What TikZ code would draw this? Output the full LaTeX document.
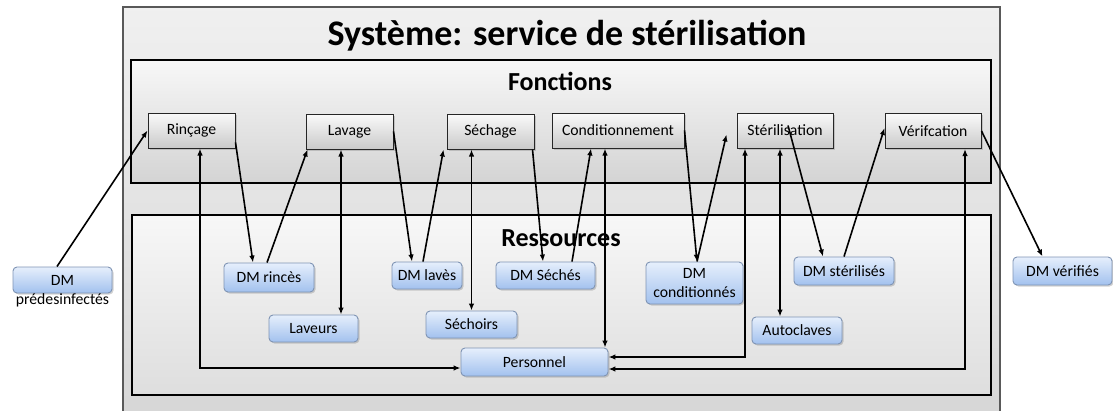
\documentclass[tikz,border=0pt]{standalone}
\usepackage{fontspec}
\setmainfont{Carlito}
\usetikzlibrary{arrows.meta,shadows}
\definecolor{bleuhaut}{HTML}{E6EFFC}
\definecolor{bleubas}{HTML}{A2C1EE}
\definecolor{bordbleu}{HTML}{7F94B4}

\begin{document}
\begin{tikzpicture}[x=1pt,y=-1pt,
  every node/.style={font=\fontsize{15.7}{19.5}\selectfont},
  fonction/.style={draw=black!85,line width=1pt,top color=gray!4,bottom color=gray!42,
    drop shadow={opacity=0.35,shadow xshift=1.5pt,shadow yshift=-1.5pt},
    minimum height=35pt,inner sep=1pt},
  ressource/.style={draw=bordbleu,line width=0.9pt,rounded corners=4pt,
    top color=bleuhaut,bottom color=bleubas,
    drop shadow={opacity=0.35,shadow xshift=1.5pt,shadow yshift=-1.5pt},
    minimum height=27pt,inner sep=1pt},
  fl/.style={-{Latex[length=7pt,width=5.5pt]},line width=1.6pt},
  dfl/.style={{Latex[length=7pt,width=5.5pt]}-{Latex[length=7pt,width=5.5pt]},line width=1.6pt}]
\useasboundingbox (0,0) rectangle (1113,410);
% cadres
\draw[line width=1.4pt,draw=black!65,top color=gray!12,bottom color=gray!32] (123,7) rectangle (1000,416);
\draw[line width=1.2pt,top color=gray!6,bottom color=gray!34] (131,60) rectangle (991,183);
\draw[line width=1.2pt,top color=gray!6,bottom color=gray!26] (132,215) rectangle (991,395);
\node[anchor=base,font=\bfseries\fontsize{36}{40}\selectfont] (titre) at (567,45) {Système: service de stérilisation};
\node[anchor=base,font=\bfseries\fontsize{26}{30}\selectfont] (fonctions) at (560,90) {Fonctions};
\node[anchor=base,font=\bfseries\fontsize{26}{30}\selectfont] (ressources) at (561,246) {Ressources};
% fonctions
\node[fonction,minimum width=87pt] (rincage) at (191.5,130.5) {Rinçage};
\node[fonction,minimum width=87pt] (lavage) at (349.5,131.5) {Lavage};
\node[fonction,minimum width=87pt] (sechage) at (490.5,131.5) {Séchage};
\node[fonction,minimum width=132pt] (conditionnement) at (618,130.5) {Conditionnement};
\node[fonction,minimum width=96pt] (sterilisation) at (785,130.5) {Stérilisation};
\node[fonction,minimum width=96pt] (verification) at (933,131) {Vérifcation};
% ressources
\node[ressource,minimum width=99pt,minimum height=26pt,
  label={[inner sep=0pt]below:prédesinfectés}] (dmpre) at (62.5,280) {DM};
\node[ressource,minimum width=90pt,minimum height=29pt] (rinces) at (269,277.5) {DM rincès};
\node[ressource,minimum width=89pt] (laveurs) at (313.5,328.5) {Laveurs};
\node[ressource,minimum width=70pt] (laves) at (427,275.5) {DM lavès};
\node[ressource,minimum width=99pt] (seches) at (545.5,275.5) {DM Séchés};
\node[ressource,minimum width=91pt] (sechoirs) at (471.5,324.5) {Séchoirs};
\node[ressource,minimum width=147pt,minimum height=28pt] (personnel) at (534.5,362) {Personnel};
\node[ressource,minimum width=97pt,minimum height=42pt,align=center] (conditionnes) at (694.5,283) {DM\\conditionnés};
\node[ressource,minimum width=100pt,minimum height=28pt] (sterilises) at (844,271) {DM stérilisés};
\node[ressource,minimum width=90pt] (autoclaves) at (797,330.5) {Autoclaves};
\node[ressource,minimum width=99pt,minimum height=28pt] (verifies) at (1062.5,271) {DM vérifiés};
% flux
\draw[fl] ([xshift=-5.5pt]dmpre.north) -- (rincage.west);
\draw[fl] ([yshift=-12pt]rincage.east) -- ([xshift=-16pt]rinces.north);
\draw[fl] ([xshift=-2pt]rinces.north) -- ([xshift=2pt]lavage.south west);
\draw[dfl] ([xshift=-8.5pt]lavage.south) -- ([xshift=-8.5pt]lavage.south |- laveurs.north);
\draw[dfl] ([xshift=8.5pt]rincage.south) |- ([yshift=-6pt]personnel.west);
\draw[fl] (lavage.east) -- ([xshift=-15pt]laves.north);
\draw[fl] ([xshift=-4pt]laves.north) -- ([xshift=-3pt]sechage.south west);
\draw[dfl] (sechage.south -| sechoirs.north) -- (sechoirs.north);
\draw[fl] ([xshift=-2pt]sechage.south east) -- ([xshift=-2.5pt]seches.north);
\draw[fl] ([xshift=26.5pt]seches.north) -- ([xshift=-27pt]conditionnement.south);
\draw[dfl] ([xshift=-13pt]conditionnement.south) -- ([xshift=-13pt]conditionnement.south |- personnel.north);
\draw[fl] (conditionnement.east) -- ([xshift=2.5pt]conditionnes.north);
\draw[fl] ([xshift=2.5pt]conditionnes.north) -- ([xshift=-10pt,yshift=-4pt]sterilisation.west);
\draw[dfl] ([xshift=-40pt]sterilisation.south) |- ([yshift=5pt]personnel.east);
\draw[dfl] ([xshift=-5pt]sterilisation.south) -- ([xshift=-5pt]sterilisation.south |- autoclaves.north);
\draw[fl] ([xshift=3pt,yshift=5pt]sterilisation.center) -- ([xshift=-21pt]sterilises.north);
\draw[fl] (sterilises.north) -- ([yshift=3pt]verification.west);
\draw[dfl] ([xshift=32pt]verification.south) |- ([yshift=-7pt]personnel.east);
\draw[fl] (verification.east) -- ([xshift=-20pt]verifies.north);
\end{tikzpicture}
\end{document}
